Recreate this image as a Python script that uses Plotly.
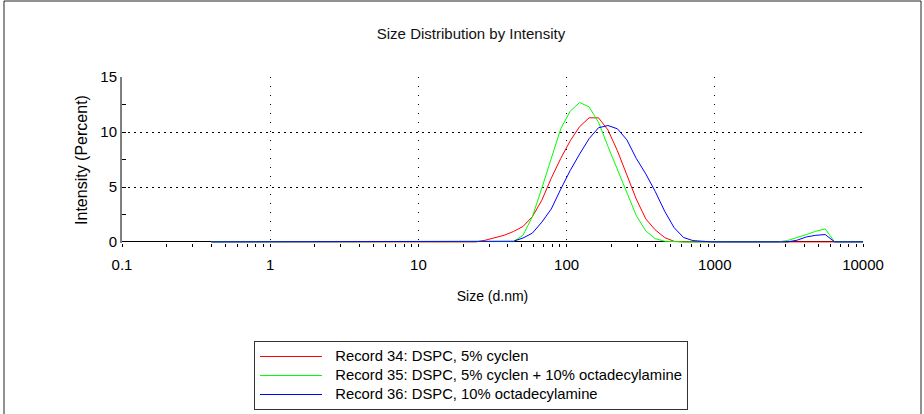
import plotly.graph_objects as go

# Size bins (d.nm) as reported by the instrument
sizes = [0.4, 0.4632, 0.5365, 0.6213, 0.7195, 0.8332, 0.9649, 1.117, 1.294, 1.499,
         1.736, 2.01, 2.328, 2.696, 3.122, 3.615, 4.187, 4.849, 5.615, 6.503,
         7.531, 8.721, 10.1, 11.7, 13.54, 15.69, 18.17, 21.04, 24.36, 28.21,
         32.67, 37.84, 43.82, 50.75, 58.77, 68.06, 78.82, 91.28, 105.7, 122.4,
         141.8, 164.2, 190.1, 220.2, 255.0, 295.3, 342.0, 396.1, 458.7, 531.2,
         615.1, 712.4, 825.0, 955.4, 1106, 1281, 1484, 1718, 1990, 2305,
         2669, 3091, 3580, 4145, 4801, 5560, 6439, 7456, 8635, 10000]

# Intensity (%) per bin
rec34 = [0]*29 + [0.15, 0.35, 0.6, 0.95, 1.4, 2.3, 3.8, 5.8, 7.6, 9.2, 10.5,
                  11.3, 11.3, 10.2, 8.3, 6.1, 3.9, 2.1, 1.1, 0.4, 0.05,
                  0, 0, 0, 0, 0, 0, 0, 0, 0, 0,
                  0, 0, 0, 0, 0, 0, 0, 0, 0, 0]
rec35 = [0]*29 + [0.02, 0.02, 0.02, 0.03, 0.6, 2.3, 4.9, 7.7, 10.3, 11.9, 12.7,
                  12.3, 10.9, 8.7, 6.6, 4.4, 2.4, 1.0, 0.3, 0.06, 0,
                  0, 0, 0, 0, 0, 0, 0, 0, 0, 0,
                  0, 0.12, 0.36, 0.67, 0.97, 1.18, 0, 0, 0, 0]
rec36 = [0]*29 + [0.05, 0.05, 0.05, 0.06, 0.35, 0.8, 1.8, 3.0, 4.8, 6.5, 8.0,
                  9.4, 10.4, 10.6, 10.3, 9.3, 7.6, 6.2, 4.6, 2.8, 1.3,
                  0.4, 0.12, 0.03, 0, 0, 0, 0, 0, 0, 0,
                  0, 0, 0.15, 0.45, 0.6, 0.67, 0, 0, 0, 0]

names = ["Record 34: DSPC, 5% cyclen",
         "Record 35: DSPC, 5% cyclen + 10% octadecylamine",
         "Record 36: DSPC, 10% octadecylamine"]
colors = ["#ff0000", "#00ff00", "#0000ff"]

x_tickvals = [0.1, 1, 10, 100, 1000, 10000]
x_ticktext = ["0.1", "1", "10", "100", "1000", "10000"]
y_tickvals = [0, 5, 10, 15]

FONT = "Liberation Sans, Arial, sans-serif"
W, H = 924, 414
ML, MR, MT, MB = 122, 61, 77, 171
PW, PH = W - ML - MR, H - MT - MB

fig = go.Figure()
for ys, nm, c in zip([rec34, rec35, rec36], names, colors):
    # legend rows are spaced by the small legend font; the label itself is drawn larger
    label = "<span style='font-size:14.8px'>\u00a0\u00a0" + nm + "</span>"
    fig.add_trace(go.Scatter(x=sizes, y=ys, mode="lines", name=label,
                             line=dict(color=c, width=1)))

tickstyle = dict(tickcolor="black", tickwidth=1, ticklen=3)

fig.update_layout(
    width=W, height=H,
    margin=dict(l=ML, r=MR, t=MT, b=MB, autoexpand=False),
    paper_bgcolor="white", plot_bgcolor="white",
    font=dict(family=FONT, size=15, color="#000000"),
    title=dict(text="Size Distribution by Intensity", font=dict(size=15, color="#111111"),
               x=471 / W, xref="container", xanchor="center",
               y=1 - 34 / H, yref="container", yanchor="middle"),
    showlegend=True,
    legend=dict(x=(254 - ML) / PW, xref="paper", y=((H - MB) - 341) / PH, yref="paper",
                xanchor="left", yanchor="top",
                bgcolor="white", bordercolor="#333333", borderwidth=1,
                font=dict(size=12, color="#000000"), itemwidth=62,
                tracegroupgap=0),
    xaxis=dict(
        type="log", range=[-1, 4],
        tickmode="array", tickvals=x_tickvals, ticktext=x_ticktext,
        ticks="outside", **tickstyle,
        ticklabelstandoff=5,
        tickfont=dict(size=15),
        minor=dict(dtick="D1", ticks="outside", ticklen=3, tickcolor="black", showgrid=False),
        showline=False,
        showgrid=True, gridcolor="black", gridwidth=1, griddash="1px,8px",
        zeroline=False,
        title=dict(text="Size (d.nm)", font=dict(size=14), standoff=19),
        layer="below traces",
    ),
    xaxis2=dict(
        type="log", range=[-1, 4], overlaying="x", anchor="y", side="bottom",
        showticklabels=False, showgrid=False, zeroline=False, showline=False,
        tickmode="array", tickvals=x_tickvals,
        ticks="inside", **tickstyle,
        minor=dict(dtick="D1", ticks="inside", ticklen=3, tickcolor="black", showgrid=False),
        layer="below traces",
    ),
    yaxis=dict(
        range=[-0.1, 15.02],
        tickmode="array", tickvals=y_tickvals,
        ticks="inside", ticklen=4, tickcolor="black",
        minor=dict(dtick=2.5, ticks="inside", ticklen=4, tickcolor="black", showgrid=False),
        showline=True, linecolor="#7f7f7f", linewidth=2,
        showgrid=True, gridcolor="black", gridwidth=1, griddash="2px,4px",
        zeroline=True, zerolinecolor="black", zerolinewidth=1,
        tickfont=dict(size=15),
        title=dict(text="Intensity (Percent)", font=dict(size=16), standoff=9),
        layer="below traces",
    ),
)

# outer frame of the report panel
fig.add_shape(type="rect", xref="paper", yref="paper",
              x0=(4 - ML) / PW, x1=(921 - ML) / PW,
              y0=-2, y1=1 + (MT - 1) / PH,
              line=dict(color="#222222", width=1), fillcolor="rgba(0,0,0,0)", layer="below")

fig.write_html("out.html", config={"displayModeBar": False},
               post_script="document.body.style.margin='0px';")
